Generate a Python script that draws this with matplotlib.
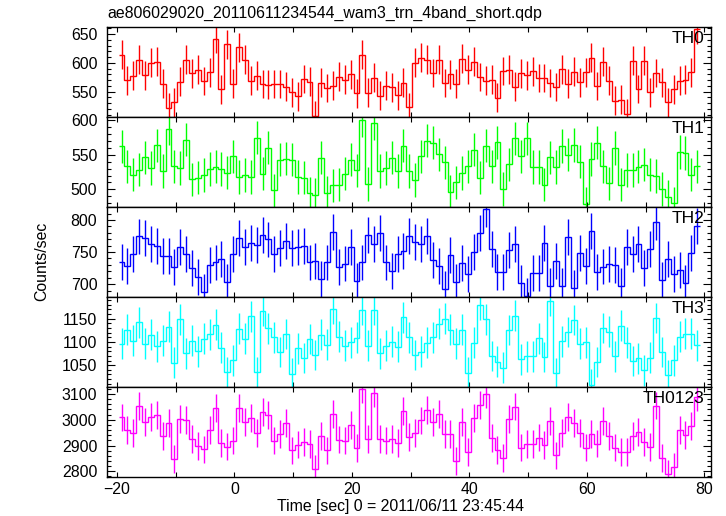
#!/usr/bin/env python3

import numpy as np
import matplotlib
matplotlib.use("Agg")
import matplotlib.pyplot as plt
from matplotlib.ticker import MultipleLocator

plt.rcParams['font.family'] = ['Liberation Sans', 'DejaVu Sans']

# 1 s bins, centre of first bin
t_first = -19.2
n_bins = 99
time = t_first + np.arange(n_bins)

th0 = [614.5, 569.8, 577.9, 605.2, 578.5, 600.0, 602.3, 564.0, 522.0, 531.4,
       567.4, 605.8, 582.0, 588.4, 568.6, 583.7, 641.9, 554.0, 632.0, 564.0,
       626.8, 605.8, 569.2, 577.9, 563.3, 562.2, 563.3, 563.3, 558.7, 548.8,
       541.8, 572.0, 567.4, 508.0, 565.7, 556.4, 560.4, 576.2, 570.9, 580.2,
       547.0, 614.5, 548.2, 574.4, 543.0, 560.4, 557.5, 543.6, 565.7, 523.0,
       600.0, 609.3, 605.8, 582.5, 605.2, 565.1, 580.2, 564.0, 607.6, 588.4,
       602.3, 575.6, 569.2, 570.9, 539.5, 586.0, 588.4, 558.7, 582.0, 578.5,
       585.5, 573.8, 573.8, 565.1, 558.1, 588.9, 564.0, 584.9, 566.3, 583.7,
       609.3, 559.9, 602.3, 569.2, 534.3, 536.1, 511.6, 603.5, 554.6, 604.1,
       548.8, 582.5, 566.3, 531.4, 554.0, 569.2, 570.9, 583.7, 658.0]

th1 = [561.9, 533.3, 521.4, 528.6, 546.2, 530.5, 563.3, 526.2, 587.1, 533.3,
       530.5, 571.4, 514.3, 517.1, 520.5, 529.5, 532.9, 529.5, 524.3, 547.6,
       518.1, 521.0, 517.6, 574.3, 522.9, 560.0, 498.6, 542.9, 544.3, 542.9,
       518.1, 517.1, 494.3, 491.9, 545.7, 494.8, 505.7, 507.1, 522.9, 542.9,
       527.6, 599.5, 507.6, 595.2, 526.2, 530.5, 545.7, 526.7, 562.9, 526.7,
       513.3, 547.6, 570.0, 567.1, 550.5, 539.0, 496.2, 510.0, 523.8, 533.3,
       557.1, 517.1, 562.9, 533.3, 567.6, 500.5, 536.2, 573.3, 547.6, 573.3,
       532.4, 532.4, 507.1, 546.2, 532.4, 562.4, 550.0, 563.8, 540.0, 479.0,
       543.8, 567.1, 533.3, 508.6, 559.5, 507.1, 528.1, 528.1, 532.9, 535.7,
       521.4, 519.5, 500.5, 489.5, 480.0, 553.8, 552.4, 521.4, 533.3]

th2 = [734.2, 728.4, 746.3, 774.2, 771.6, 763.1, 760.0, 744.2, 743.2, 726.9,
       758.4, 746.3, 725.8, 711.1, 688.0, 729.5, 733.7, 738.4, 703.2, 746.3,
       772.1, 758.4, 764.7, 761.0, 776.3, 769.5, 746.3, 756.8, 767.4, 756.8,
       758.4, 758.9, 733.7, 736.3, 707.4, 733.7, 780.5, 726.9, 732.1, 758.4,
       704.8, 733.7, 776.3, 762.1, 778.9, 733.7, 720.6, 747.4, 751.6, 775.2,
       765.2, 762.6, 774.7, 736.9, 728.4, 692.2, 744.7, 702.7, 732.6, 715.3,
       750.0, 780.0, 816.8, 755.3, 719.5, 719.5, 753.7, 763.1, 701.6, 681.6,
       717.4, 717.4, 764.7, 697.4, 735.8, 696.4, 773.7, 693.7, 748.4, 728.4,
       783.1, 718.5, 727.4, 731.6, 730.5, 697.4, 757.9, 747.4, 763.1, 725.3,
       754.7, 797.3, 706.4, 738.4, 715.8, 722.1, 702.2, 748.4, 790.5]

th3 = [1096.5, 1126.2, 1102.8, 1141.8, 1096.5, 1115.6, 1090.1, 1102.8, 1132.6, 1055.3,
       1148.2, 1075.2, 1102.8, 1079.4, 1107.1, 1116.3, 1136.9, 1087.2, 1034.8, 1060.3,
       1128.4, 1107.1, 1154.6, 1034.8, 1166.7, 1129.1, 1109.9, 1078.0, 1117.0, 1031.9,
       1085.8, 1065.2, 1106.4, 1071.6, 1115.6, 1093.6, 1170.9, 1111.3, 1092.2, 1099.3,
       1109.2, 1168.8, 1092.2, 1169.5, 1075.2, 1092.2, 1100.7, 1089.4, 1152.5, 1109.9,
       1071.6, 1078.7, 1098.6, 1109.9, 1139.0, 1149.6, 1126.2, 1096.5, 1126.2, 1034.0,
       1097.9, 1179.4, 1148.2, 1069.5, 1057.4, 1044.7, 1125.5, 1156.0, 1062.4, 1068.8,
       1068.8, 1107.8, 1067.4, 1188.0, 1033.3, 1101.4, 1121.3, 1146.8, 1096.5, 1099.3,
       1007.8, 1056.7, 1129.8, 1122.0, 1068.8, 1134.8, 1097.9, 1058.9, 1064.5, 1039.0,
       1066.0, 1151.1, 1078.0, 1029.1, 1060.3, 1111.3, 1117.7, 1117.7, 1092.9]

th0123 = [3009.0, 2961.5, 2950.0, 3053.8, 2992.3, 3010.3, 3017.9, 2938.5, 2985.9, 2847.4,
          3003.8, 3000.0, 2926.9, 2897.4, 2884.6, 2961.5, 3046.2, 2910.3, 2896.2, 2919.2,
          3046.2, 2992.3, 3007.7, 2950.0, 3030.8, 3019.2, 2919.2, 2943.6, 2987.2, 2880.8,
          2903.8, 2914.1, 2905.1, 2809.0, 2935.9, 2880.8, 3021.8, 2923.1, 2919.2, 2980.8,
          2889.7, 3119.2, 2925.6, 3103.8, 2926.9, 2919.2, 2926.9, 2910.3, 3034.6, 2934.6,
          2950.0, 2997.4, 3038.5, 2991.0, 3021.8, 2946.2, 2946.2, 2839.7, 2991.0, 2874.4,
          3007.7, 3056.4, 3100.0, 2929.5, 2882.1, 2850.0, 3002.6, 3051.3, 2892.3, 2905.1,
          2905.1, 2930.8, 2901.3, 2996.2, 2861.5, 2950.0, 3011.5, 2987.2, 2948.7, 2892.3,
          2944.9, 2907.7, 2996.2, 2935.9, 2892.3, 2875.6, 2875.6, 2935.9, 2952.6, 2914.1,
          2893.6, 3055.1, 2850.0, 2788.5, 2815.4, 2961.5, 2942.3, 2974.4, 3089.7]

# error bar half-lengths (counts/sec)
errors = [25, 24, 28, 33, 54]

names = ["TH0", "TH1", "TH2", "TH3", "TH0123"]
rates = [th0, th1, th2, th3, th0123]
colors = ["#ff0000", "#00ff00", "#0000ff", "#00ffff", "#ff00ff"]
y_limits = [(505.7, 661.7), (474.7, 603.7), (680, 820), (1003.5, 1196.5), (2779, 3128)]
y_major = [50, 50, 50, 50, 100]
y_minor = [10, 10, 10, 10, 20]

edges = np.append(time - 0.5, time[-1] + 0.5)

fig = plt.figure(figsize=(7.26, 5.16), dpi=100)
gs = fig.add_gridspec(5, 1, left=0.1474, right=0.9793, top=0.947, bottom=0.0762, hspace=0)

axes = []
for i in range(5):
    ax = fig.add_subplot(gs[i, 0])
    axes.append(ax)
    c = colors[i]
    ax.stairs(rates[i], edges, baseline=None, color=c, linewidth=1.0)
    ax.errorbar(time, rates[i], yerr=errors[i], fmt='none', ecolor=c, elinewidth=1.0, capsize=0)

    ax.set_xlim(-21.67, 81.14)
    ax.set_ylim(*y_limits[i])
    ax.xaxis.set_major_locator(MultipleLocator(20))
    ax.xaxis.set_minor_locator(MultipleLocator(10))
    ax.yaxis.set_major_locator(MultipleLocator(y_major[i]))
    ax.yaxis.set_minor_locator(MultipleLocator(y_minor[i]))

    ax.tick_params(which='both', direction='in', top=True, right=True, color='black',
                   labelsize=11.4, width=0.8)
    ax.tick_params(axis='y', which='major', length=6, pad=7)
    ax.tick_params(axis='y', which='minor', length=3)
    ax.tick_params(axis='x', which='both', length=3.5, pad=4)
    for s in ax.spines.values():
        s.set_linewidth(1.0)
        s.set_color('black')

    if i < 4:
        ax.tick_params(axis='x', labelbottom=False)

    ax.text(0.989, 0.955, names[i], transform=ax.transAxes, ha='right', va='top', fontsize=12.5)

fig.text(107 / 726, 1 - 13 / 516, "ae806029020_20110611234544_wam3_trn_4band_short.qdp",
         ha='left', va='center', fontsize=11.4)
fig.text(0.057, 0.493, "Counts/sec", rotation=90, ha='center', va='center', fontsize=11.4)
fig.text(0.552, 0.018, "Time [sec] 0 = 2011/06/11 23:45:44", ha='center', va='center', fontsize=11.4)

plt.savefig("out.png", dpi=100)
